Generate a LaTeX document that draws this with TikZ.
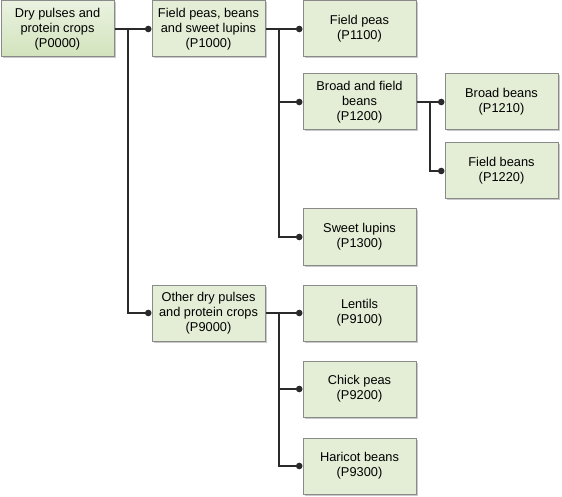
\documentclass[tikz,border=0pt]{standalone}
\usepackage{fontspec}
\setmainfont{Liberation Sans}
\usetikzlibrary{arrows.meta,shadows}
\definecolor{boxfill}{HTML}{E4EED6}
\definecolor{rootTop}{HTML}{EAF2E0}
\definecolor{rootBot}{HTML}{D2E3BC}
\definecolor{boxline}{HTML}{8A8A8A}
\definecolor{conn}{HTML}{2A2A2A}
\begin{document}
\begin{tikzpicture}[x=1pt,y=-1pt,
  cat/.style={draw=boxline, line width=1pt, fill=boxfill, minimum width=113pt, minimum height=56pt,
    inner sep=2pt, align=center, font=\fontsize{12.8}{14.8}\selectfont,
    drop shadow={shadow xshift=1.5pt, shadow yshift=-1.5pt, fill=black!35, opacity=0.6}},
  link/.style={draw=conn, line width=1.1pt, -{Circle[length=6.5pt,width=6.5pt]}}
]
\path[fill=white] (0,0) rectangle (562,497);
\node[cat, top color=rootTop, bottom color=rootBot] (p0) at (57.5,29) {Dry pulses and\\protein crops\\(P0000)};
\node[cat] (p1) at (208.5,29) {Field peas, beans\\and sweet lupins\\(P1000)};
\node[cat] (p11) at (359.5,29) {Field peas\\(P1100)};
\node[cat] (p12) at (359.5,102) {Broad and field\\beans\\(P1200)};
\node[cat] (p121) at (501.5,102) {Broad beans\\(P1210)};
\node[cat] (p122) at (501.5,171) {Field beans\\(P1220)};
\node[cat] (p13) at (359.5,237) {Sweet lupins\\(P1300)};
\node[cat] (p9) at (208.5,313) {Other dry pulses\\and protein crops\\(P9000)};
\node[cat] (p91) at (359.5,313) {Lentils\\(P9100)};
\node[cat] (p92) at (359.5,389) {Chick peas\\(P9200)};
\node[cat] (p93) at (359.5,466) {Haricot beans\\(P9300)};
\coordinate (t0) at (128,29);
\coordinate (t1) at (279,29);
\coordinate (t12) at (430,102);
\coordinate (t9) at (279,313);
\draw[draw=conn, line width=1.1pt] (p0.east) -- (t0);
\draw[link] (t0) -- (p1.west);
\draw[link] (t0) |- (p9.west);
\draw[draw=conn, line width=1.1pt] (p1.east) -- (t1);
\draw[link] (t1) -- (p11.west);
\draw[link] (t1) |- (p12.west);
\draw[link] (t1) |- (p13.west);
\draw[draw=conn, line width=1.1pt] (p12.east) -- (t12);
\draw[link] (t12) -- (p121.west);
\draw[link] (t12) |- (p122.west);
\draw[draw=conn, line width=1.1pt] (p9.east) -- (t9);
\draw[link] (t9) -- (p91.west);
\draw[link] (t9) |- (p92.west);
\draw[link] (t9) |- (p93.west);
\end{tikzpicture}
\end{document}
